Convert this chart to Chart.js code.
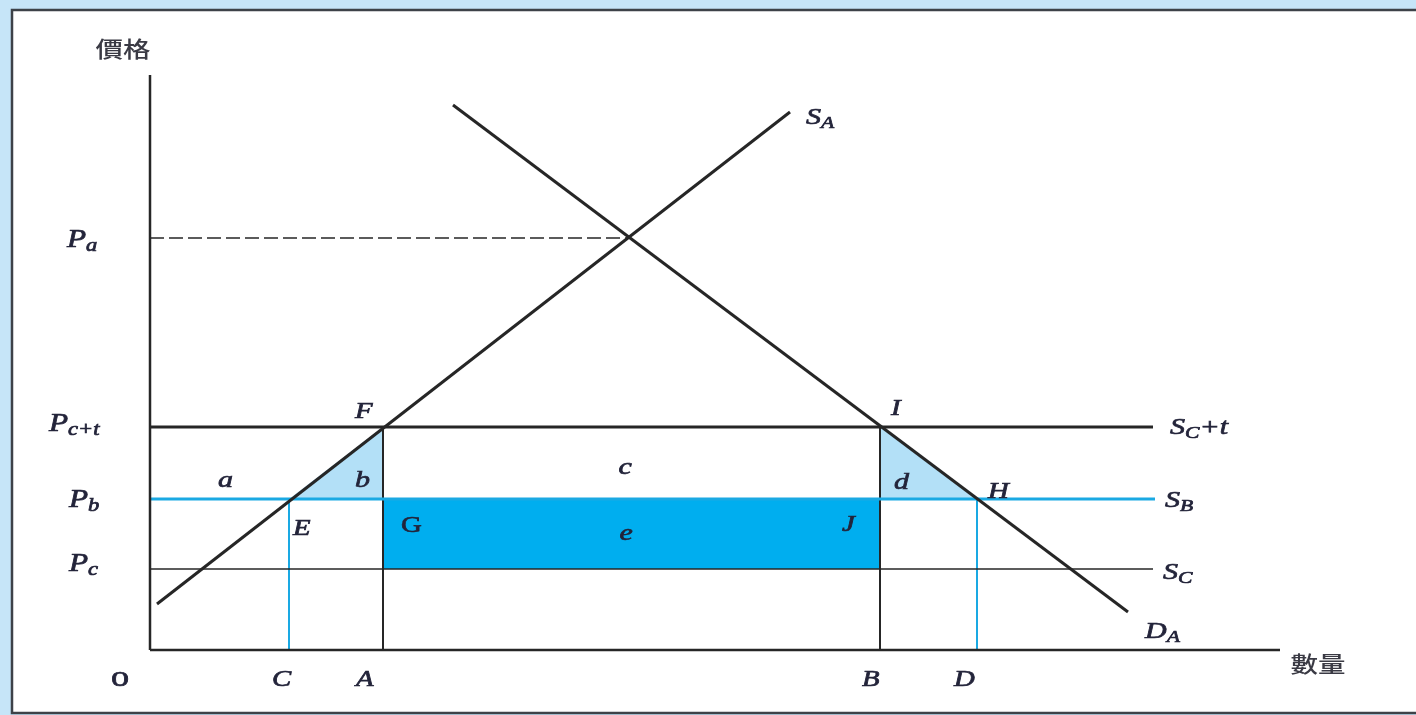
<!DOCTYPE html>
<html>
<head>
<meta charset="utf-8">
<script src="https://cdn.jsdelivr.net/npm/chart.js@4/dist/chart.umd.min.js"></script>
<style>
  html, body { margin: 0; padding: 0; background: #c6e5f8; }
  #wrap { width: 1416px; height: 715px; }
</style>
</head>
<body>
<div id="wrap"><canvas id="grafica" width="1416" height="715"></canvas></div>
<script>
// axis extents (quantity, price)
const xMax = 113;
const yMax = 57.5;

// price levels
const priceNames = ["Pa", "Pc+t", "Pb", "Pc"];
const priceValues = [41.2, 22.3, 15.1, 8.1];

// quantities
const qtyNames = ["C", "A", "B", "D"];
const qtyValues = [13.9, 23.3, 73.0, 82.7];

// supply and demand curves of country A
const supplyA = [[0.7, 4.6], [64.0, 53.8]];
const demandA = [[30.3, 54.5], [97.8, 3.8]];
const equilibrium = [47.7, 41.2];

// where the horizontal supply lines stop
const supplyEndX = 100.3;

const toPts = arr => arr.map(p => ({ x: p[0], y: p[1] }));
const pa = priceValues[0], pct = priceValues[1], pb = priceValues[2], pc = priceValues[3];
const qC = qtyValues[0], qA = qtyValues[1], qB = qtyValues[2], qD = qtyValues[3];

const negro = "#262626";
const azul = "#1aa9e3";

function linea(points, color, width, extra) {
    return Object.assign({
        data: toPts(points),
        borderColor: color,
        borderWidth: width,
        showLine: true,
        pointRadius: 0,
        fill: false,
        clip: false
    }, extra || {});
}

const datasets = [
    // ejes
    linea([[0, 0], [0, yMax]], negro, 2.5),
    linea([[0, 0], [xMax, 0]], negro, 2.5),
    // curvas
    linea(supplyA, negro, 3),
    linea(demandA, negro, 3),
    linea([[0, pa], equilibrium], negro, 1.5, { borderDash: [14, 5] }),
    linea([[0, pct], [supplyEndX, pct]], negro, 3),
    linea([[0, pb], [supplyEndX + 0.2, pb]], azul, 3),
    linea([[0, pc], [supplyEndX, pc]], negro, 1.5),
    // verticales
    linea([[qA, pct], [qA, 0]], negro, 2),
    linea([[qB, pct], [qB, 0]], negro, 2),
    linea([[qC, pb], [qC, 0]], azul, 2),
    linea([[qD, pb], [qD, 0]], azul, 2),
    // areas (drawn first, last in list)
    linea([[qA, pb], [qB, pb]], "rgba(0,0,0,0)", 0, { fill: { value: pc }, backgroundColor: "#00aeef" }),
    linea([[qC, pb], [qA, pct]], "rgba(0,0,0,0)", 0, { fill: { value: pb }, backgroundColor: "#b3e0f7" }),
    linea([[qB, pct], [qD, pb]], "rgba(0,0,0,0)", 0, { fill: { value: pb }, backgroundColor: "#b3e0f7" })
];

const stretch = 1.25;
const colorTexto = "#23243a";

// draws a label made of parts: {t, sub, it}
function dibujarEtiqueta(ctx, x, y, parts, size) {
    ctx.save();
    ctx.translate(x, y);
    ctx.scale(stretch, 1);
    ctx.fillStyle = colorTexto;
    ctx.strokeStyle = colorTexto;
    ctx.lineWidth = 0.7;
    ctx.textBaseline = "alphabetic";
    ctx.textAlign = "left";
    let cx = 0;
    parts.forEach(p => {
        const s = p.sub ? size * 0.72 : size;
        const dy = p.sub ? size * 0.16 : 0;
        ctx.font = (p.it === false ? "" : "italic ") + s + "px 'Liberation Serif', serif";
        ctx.fillText(p.t, cx, dy);
        ctx.strokeText(p.t, cx, dy);
        cx += ctx.measureText(p.t).width;
    });
    ctx.restore();
}

function textoCJK(ctx, text, x, y) {
    ctx.save();
    ctx.translate(x, y);
    ctx.scale(stretch, 1);
    ctx.fillStyle = "#3a3a44";
    ctx.font = "500 22px 'Noto Sans CJK TC', sans-serif";
    ctx.textAlign = "center";
    ctx.textBaseline = "middle";
    ctx.fillText(text, 0, 0);
    ctx.restore();
}

const fondoPlugin = {
    id: "fondo",
    beforeDraw(chart) {
        const ctx = chart.ctx;
        ctx.save();
        ctx.fillStyle = "#c6e5f8";
        ctx.fillRect(0, 0, chart.width, chart.height);
        ctx.fillStyle = "#ffffff";
        ctx.fillRect(12, 10, chart.width, 703);
        ctx.strokeStyle = "#3d4248";
        ctx.lineWidth = 2.5;
        ctx.strokeRect(12, 10, chart.width + 10, 703);
        ctx.restore();
    }
};

const etiquetasPlugin = {
    id: "etiquetas",
    afterDatasetsDraw(chart) {
        const ctx = chart.ctx;
        const sx = chart.scales.x, sy = chart.scales.y;
        const X = v => sx.getPixelForValue(v);
        const Y = v => sy.getPixelForValue(v);

        textoCJK(ctx, "價格", 123, 49);
        textoCJK(ctx, "數量", 1318, 664);

        // price labels
        const left = X(0);
        dibujarEtiqueta(ctx, left - 83, Y(pa) + 9, [{ t: "P" }, { t: "a", sub: true }], 25);
        dibujarEtiqueta(ctx, left - 101, Y(pct) + 4, [{ t: "P" }, { t: "c+t", sub: true }], 25);
        dibujarEtiqueta(ctx, left - 81, Y(pb) + 8, [{ t: "P" }, { t: "b", sub: true }], 25);
        dibujarEtiqueta(ctx, left - 81, Y(pc) + 2, [{ t: "P" }, { t: "c", sub: true }], 25);

        // quantity labels
        const base = Y(0) + 36;
        dibujarEtiqueta(ctx, X(0) - 39, base, [{ t: "o", it: false }], 29);
        dibujarEtiqueta(ctx, X(qC) - 17, base, [{ t: qtyNames[0] }], 23);
        dibujarEtiqueta(ctx, X(qA) - 27, base, [{ t: qtyNames[1] }], 23);
        dibujarEtiqueta(ctx, X(qB) - 18, base, [{ t: qtyNames[2] }], 23);
        dibujarEtiqueta(ctx, X(qD) - 23, base, [{ t: qtyNames[3] }], 23);

        // curve labels
        dibujarEtiqueta(ctx, X(supplyA[1][0]) + 16, Y(supplyA[1][1]) + 12, [{ t: "S" }, { t: "A", sub: true }], 24);
        dibujarEtiqueta(ctx, X(demandA[1][0]) + 17, Y(demandA[1][1]) + 26, [{ t: "D" }, { t: "A", sub: true }], 24);
        dibujarEtiqueta(ctx, X(supplyEndX) + 17, Y(pct) + 7, [{ t: "S" }, { t: "C", sub: true }, { t: "+t" }], 24);
        dibujarEtiqueta(ctx, X(supplyEndX) + 12, Y(pb) + 8, [{ t: "S" }, { t: "B", sub: true }], 24);
        dibujarEtiqueta(ctx, X(supplyEndX) + 10, Y(pc) + 10, [{ t: "S" }, { t: "C", sub: true }], 24);

        // point labels
        dibujarEtiqueta(ctx, X(qA) - 28, Y(pct) - 9, [{ t: "F" }], 23);
        dibujarEtiqueta(ctx, X(qB) + 11, Y(pct) - 12, [{ t: "I" }], 23);
        dibujarEtiqueta(ctx, X(qC) + 4, Y(pb) + 36, [{ t: "E" }], 23);
        dibujarEtiqueta(ctx, X(qD) + 11, Y(pb) - 1, [{ t: "H" }], 23);
        dibujarEtiqueta(ctx, X(qA) + 18, Y(pb) + 33, [{ t: "G", it: false }], 23);
        dibujarEtiqueta(ctx, X(qB) - 38, Y(pb) + 32, [{ t: "J" }], 23);

        // area labels
        const mid = (qA + qB) / 2;
        dibujarEtiqueta(ctx, 218, Y(pb) - 12, [{ t: "a" }], 24);
        dibujarEtiqueta(ctx, X(qA) - 28, Y(pb) - 12, [{ t: "b" }], 24);
        dibujarEtiqueta(ctx, X(mid) - 13, Y(pct) + 47, [{ t: "c" }], 24);
        dibujarEtiqueta(ctx, X(qB) + 14, Y(pb) - 10, [{ t: "d" }], 24);
        dibujarEtiqueta(ctx, X(mid) - 12, Y(pb) + 41, [{ t: "e" }], 24);
    }
};

new Chart(document.getElementById("grafica"), {
    type: "scatter",
    data: { datasets: datasets },
    options: {
        responsive: false,
        animation: false,
        layout: { padding: { left: 150, right: 136, top: 75, bottom: 65 } },
        scales: {
            x: { type: "linear", min: 0, max: xMax, display: false },
            y: { type: "linear", min: 0, max: yMax, display: false }
        },
        plugins: {
            legend: { display: false },
            tooltip: { enabled: false }
        },
        elements: { line: { tension: 0, borderCapStyle: "butt" } }
    },
    plugins: [fondoPlugin, etiquetasPlugin]
});
</script>
</body>
</html>
